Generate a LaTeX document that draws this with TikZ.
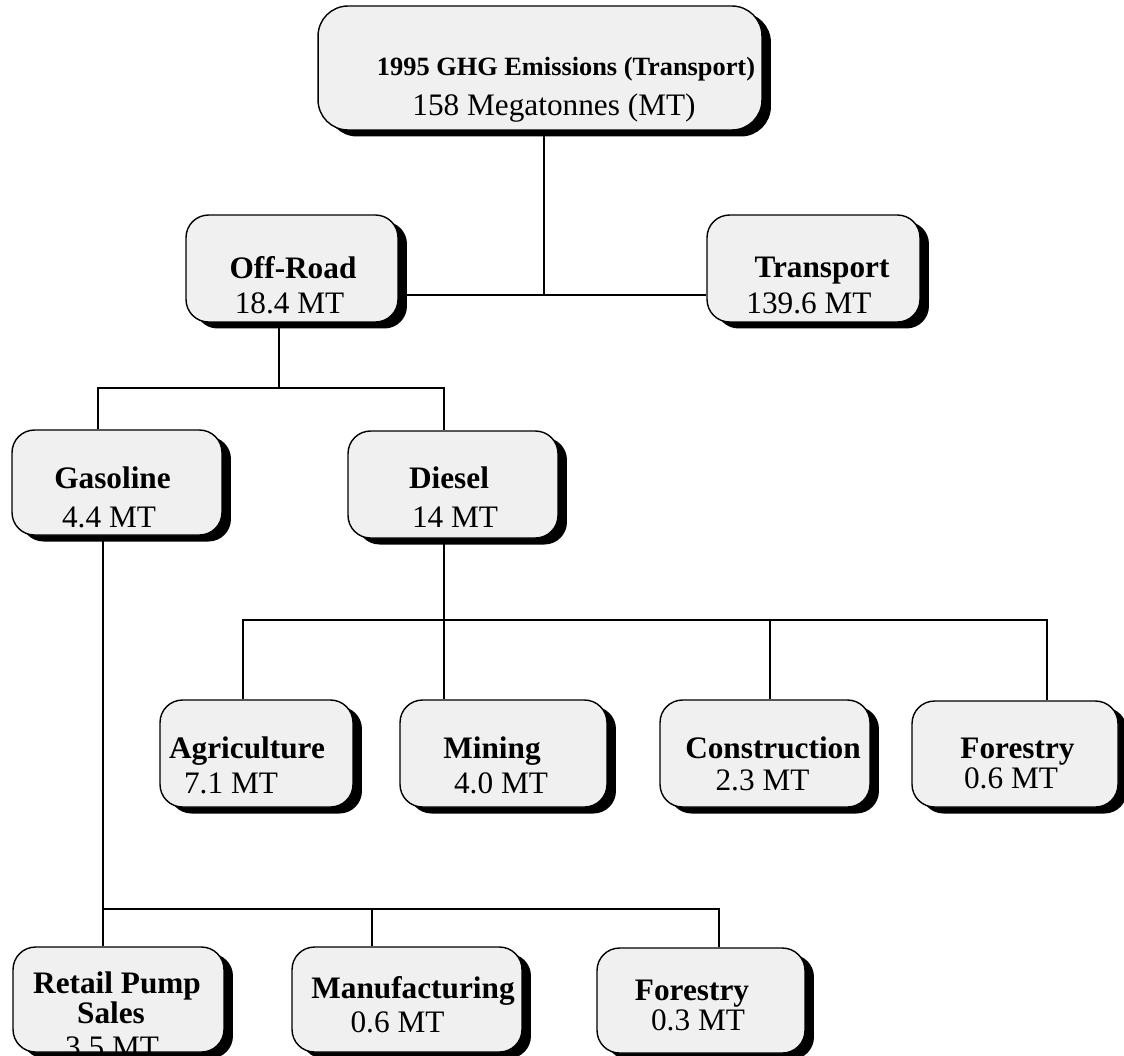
\documentclass[tikz,border=0pt]{standalone}
\usepackage{fontspec}
\setmainfont{Liberation Serif}
\usetikzlibrary{shadows,calc}
\definecolor{boxgray}{gray}{0.94}
\tikzstyle{sector} = [rectangle, rounded corners=0.45cm, draw=black, line width=0.8pt,
fill=boxgray, inner sep=0pt, minimum height=2.14cm,
drop shadow={shadow xshift=0.18cm, shadow yshift=-0.13cm, opacity=1, fill=black}]
\tikzstyle{head} = [anchor=base, inner sep=0pt, font=\fontsize{17.8}{20}\selectfont\bfseries]
\tikzstyle{val} = [anchor=base, inner sep=0pt, font=\fontsize{17.8}{20}\selectfont]
\tikzstyle{link} = [line width=0.8pt]

\begin{document}
\begin{tikzpicture}[x=0.02cm, y=-0.02cm]
            \useasboundingbox (0,0) rectangle (1124,1055);
            % boxes
            \node[sector, minimum width=8.88cm, minimum height=2.48cm, rounded corners=0.6cm] (total) at (540,68) {};
            \node[sector, minimum width=4.24cm] (offroad) at (292,268.5) {};
            \node[sector, minimum width=4.26cm] (transport) at (813.5,268.5) {};
            \node[sector, minimum width=4.2cm, minimum height=2.1cm] (gasoline) at (117,482.5) {};
            \node[sector, minimum width=4.2cm] (diesel) at (453,484.5) {};
            \node[sector, minimum width=3.86cm] (agri) at (256.5,753.5) {};
            \node[sector, minimum width=4.14cm] (mining) at (503.5,753.5) {};
            \node[sector, minimum width=4.2cm] (constr) at (765,753.5) {};
            \node[sector, minimum width=4.12cm, minimum height=2.12cm] (forestD) at (1015,754) {};
            \node[sector, minimum width=4.22cm, minimum height=2.1cm] (retail) at (118.5,999.5) {};
            \node[sector, minimum width=4.6cm, minimum height=2.1cm] (manuf) at (407,999.5) {};
            \node[sector, minimum width=4.16cm, minimum height=2.1cm] (forestG) at (701,1000.5) {};
            % labels
            \node[head, font=\fontsize{15}{18}\selectfont\bfseries] (totalH) at (566,75) {1995 GHG Emissions (Transport)};
            \node[val] (totalV) at (554,115) {158 Megatonnes (MT)};
            \node[head] (offroadH) at (293,278) {Off-Road};
            \node[val] (offroadV) at (289.5,313) {18.4 MT};
            \node[head] (transportH) at (822,277) {Transport};
            \node[val] (transportV) at (809,313) {139.6 MT};
            \node[head] (gasolineH) at (112.5,488) {Gasoline};
            \node[val] (gasolineV) at (109,527) {4.4 MT};
            \node[head] (dieselH) at (449,488) {Diesel};
            \node[val] (dieselV) at (455,527) {14 MT};
            \node[head] (agriH) at (247,758) {Agriculture};
            \node[val] (agriV) at (231,793) {7.1 MT};
            \node[head] (miningH) at (492,758) {Mining};
            \node[val] (miningV) at (501,793) {4.0 MT};
            \node[head] (constrH) at (773,758) {Construction};
            \node[val] (constrV) at (762.5,790) {2.3 MT};
            \node[head] (forestDH) at (1017.5,758) {Forestry};
            \node[val] (forestDV) at (1011,788) {0.6 MT};
            \node[head] (retailH) at (117,993) {Retail Pump};
            \node[head] (retailH2) at (111,1023) {Sales};
            \node[val] (retailV) at (112,1057) {3.5 MT};
            \node[head] (manufH) at (413,998) {Manufacturing};
            \node[val] (manufV) at (397.5,1032) {0.6 MT};
            \node[head] (forestGH) at (692,1000) {Forestry};
            \node[val] (forestGV) at (698,1030) {0.3 MT};
            % connectors
            \coordinate (j1) at (544,295);
            \draw[link] (total.south -| j1) -- (j1);
            \draw[link] (offroad.east |- j1) -- (transport.west |- j1);
            \coordinate (j2) at (279,388);
            \coordinate (j2a) at (98,388);
            \coordinate (j2b) at (444,388);
            \draw[link] (offroad.south -| j2) -- (j2);
            \draw[link] (gasoline.north -| j2a) |- (j2b) -- (diesel.north -| j2b);
            \coordinate (j3) at (444,620);
            \coordinate (j3a) at (243,620);
            \coordinate (j3b) at (770,620);
            \coordinate (j3c) at (1047,620);
            \draw[link] (diesel.south -| j3) -- (mining.north -| j3);
            \draw[link] (agri.north -| j3a) |- (j3c) -- (forestD.north -| j3c);
            \draw[link] (j3b) -- (constr.north -| j3b);
            \coordinate (j4) at (103,909);
            \coordinate (j4a) at (372,909);
            \coordinate (j4b) at (719,909);
            \draw[link] (gasoline.south -| j4) -- (retail.north -| j4);
            \draw[link] (j4) -- (j4b) -- (forestG.north -| j4b);
            \draw[link] (j4a) -- (manuf.north -| j4a);
        \end{tikzpicture}
\end{document}
